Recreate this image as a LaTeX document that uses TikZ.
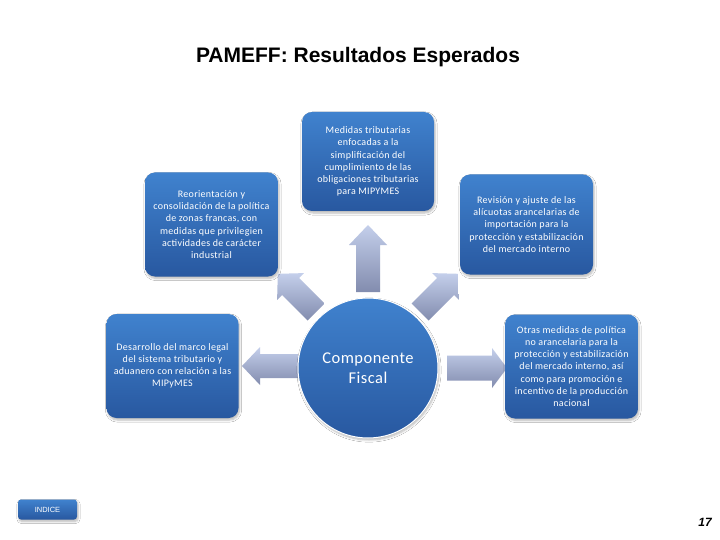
\documentclass[tikz,border=0pt]{standalone}
\usepackage{fontspec}
\setmainfont{Liberation Sans}
\newfontfamily\boxfont[LetterSpace=3]{Carlito}
\usetikzlibrary{shadows.blur}
\definecolor{boxtop}{RGB}{64,130,206}
\definecolor{boxbot}{RGB}{40,88,160}
\definecolor{arrtop}{RGB}{196,207,235}
\definecolor{arrbot}{RGB}{130,140,174}
\begin{document}
\begin{tikzpicture}[x=1pt,y=-1pt,
  fshadow/.style={blur shadow={shadow xshift=1pt, shadow yshift=-2pt, shadow blur steps=6, shadow opacity=28}},
  fbox/.style={fshadow, rounded corners=10pt, top color=boxtop, bottom color=boxbot,
    draw=none, text=white, align=center, inner sep=0pt,
    font=\boxfont\fontsize{10}{12.2}\selectfont},
  fcirc/.style={fshadow, circle, minimum size=140pt, inner sep=0pt, top color=boxtop, bottom color=boxbot,
    draw=white, line width=1pt, text=white, align=center,
    font=\boxfont\fontsize{16.5}{20}\selectfont},
  farrow/.style={top color=arrtop, bottom color=arrbot, draw=none}]
\useasboundingbox (0,0) rectangle (720,540);
\fill[white] (0,0) rectangle (720,540);

% title
\node[font=\bfseries\fontsize{21}{24}\selectfont] (title) at (358,57.5) {PAMEFF: Resultados Esperados};

% block arrows
\shade[farrow] (356,292) -- (356,245) -- (349,245) -- (368,225) -- (387,245) -- (380,245) -- (380,292) -- cycle;
\shade[farrow] (298,354) -- (260,354) -- (260,347) -- (242,366) -- (260,385) -- (260,378) -- (298,378) -- cycle;
\shade[farrow] (447,355.5) -- (492,355.5) -- (492,348) -- (507,368) -- (492,388) -- (492,380.5) -- (447,380.5) -- cycle;
\shade[farrow] (324.5,303.5) -- (299.0,278.0) -- (303.9,273.1) -- (277.8,273.8) -- (277.1,299.9) -- (282.0,295.0) -- (307.5,320.5) -- cycle;
\shade[farrow] (411.5,303.5) -- (437.0,278.0) -- (432.1,273.1) -- (458.2,273.8) -- (458.9,299.9) -- (454.0,295.0) -- (428.5,320.5) -- cycle;

% boxes
\node[fbox, minimum width=133pt, minimum height=104pt] (tl) at (211.5,224.5)
  {Reorientación y\\consolidación de la política\\de zonas francas, con\\medidas que privilegien\\actividades de carácter\\industrial};
\node[fbox, minimum width=132pt, minimum height=99pt] (tc) at (368,161.5)
  {Medidas tributarias\\enfocadas a la\\simplificación del\\cumplimiento de las\\obligaciones tributarias\\para MIPYMES};
\node[fbox, minimum width=133pt, minimum height=100pt] (tr) at (526.5,224.5)
  {Revisión y ajuste de las\\alícuotas arancelarias de\\importación  para la\\protección  y estabilización\\del mercado interno};
\node[fbox, minimum width=132pt, minimum height=104pt] (lb) at (172.5,366)
  {Desarrollo del marco legal\\del sistema tributario y\\aduanero con relación a las\\MIPyMES};
\node[fbox, minimum width=133pt, minimum height=104pt] (rb) at (571.5,366.5)
  {Otras medidas de política\\no arancelaria para la\\protección y estabilización\\del mercado interno, así\\como para promoción e\\incentivo de la producción\\nacional};

% circle
\node[fcirc] (cf) at (368,368) {Componente\\Fiscal};

% index button
\node[fshadow, rounded corners=3pt, top color=boxtop, bottom color=boxbot, text=white,
  minimum width=59pt, minimum height=20pt, inner sep=0pt,
  font=\fontsize{7.5}{9}\selectfont] (indice) at (47.5,509.5) {INDICE};

% page number
\node[font=\bfseries\itshape\fontsize{12}{14}\selectfont, inner sep=0pt] (pg) at (705,522.5) {17};
\end{tikzpicture}
\end{document}
